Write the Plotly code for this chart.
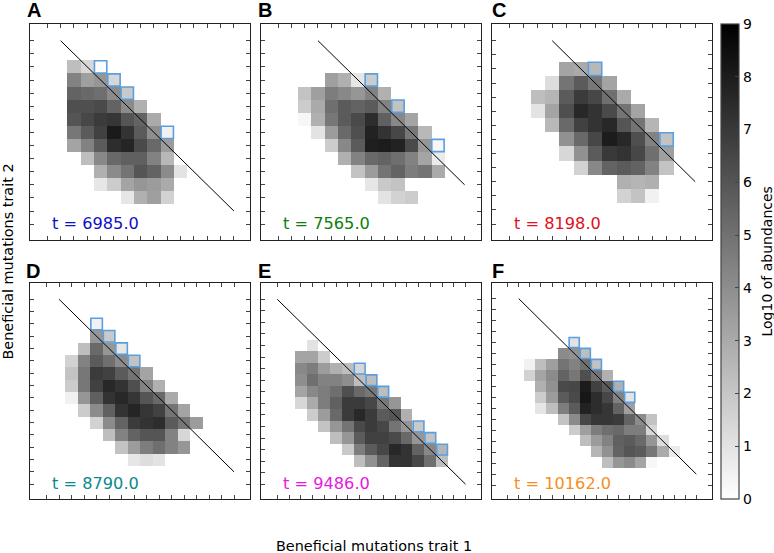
import plotly.graph_objects as go

W, H = 774, 553

# Each row: (row index j, first column k, log10 abundances)
rows_a = [
    (2, 2, [2.3, 1.4, 0.1]),
    (3, 2, [4.4, 3.4, 3.7, 1.4]),
    (4, 2, [5.5, 5.3, 5.1, 4.1, 1.9]),
    (5, 2, [6.2, 6.2, 6.4, 5.5, 4.1, 2.8]),
    (6, 2, [6.0, 6.5, 6.9, 7.1, 6.0, 5.5, 3.0]),
    (7, 2, [4.8, 5.8, 6.7, 8.1, 7.2, 5.8, 4.0, 0.5]),
    (8, 2, [3.2, 4.4, 5.8, 7.4, 7.7, 6.4, 5.3, 3.5]),
    (9, 3, [2.3, 4.2, 5.3, 5.6, 5.6, 4.4, 2.5]),
    (10, 4, [2.8, 4.1, 4.9, 6.0, 5.5, 4.1, 1.0]),
    (11, 4, [0.9, 1.8, 3.2, 3.7, 3.5, 3.0]),
    (12, 6, [0.9, 2.8, 3.4, 1.6]),
]
rows_b = [
    (3, 4, [3.4, 2.8, 0.9, 1.8]),
    (4, 2, [2.1, 3.4, 4.6, 4.2, 3.7, 4.4, 2.8]),
    (5, 2, [1.8, 3.0, 5.1, 5.8, 5.5, 5.8, 4.4, 2.1]),
    (6, 2, [0.3, 2.8, 4.8, 5.8, 6.4, 7.4, 5.6, 4.2, 3.2]),
    (7, 3, [1.0, 3.5, 5.3, 6.2, 7.8, 7.2, 6.5, 4.8, 2.5]),
    (8, 4, [1.8, 4.2, 5.8, 7.9, 8.0, 7.8, 6.4, 3.7, 0.3]),
    (9, 5, [2.8, 4.4, 5.3, 5.5, 5.1, 4.4, 3.2, 0.7]),
    (10, 6, [2.1, 3.5, 4.9, 5.5, 4.6, 4.9, 3.0]),
    (11, 7, [0.9, 1.9, 2.1]),
    (12, 8, [1.0, 1.6, 1.8]),
]
rows_c = [
    (2, 4, [3.2, 3.0, 2.5]),
    (3, 3, [1.2, 4.9, 5.8, 4.8, 3.2]),
    (4, 2, [2.3, 2.6, 5.8, 6.9, 6.5, 5.1, 3.0]),
    (5, 2, [1.0, 3.2, 6.2, 7.6, 7.2, 6.4, 4.9, 3.2]),
    (6, 3, [2.5, 5.3, 6.7, 7.2, 7.6, 6.0, 4.9, 2.6]),
    (7, 4, [3.9, 5.3, 6.5, 8.0, 7.6, 6.2, 4.4, 2.1]),
    (8, 4, [1.4, 3.9, 5.8, 7.0, 7.2, 6.5, 5.1, 3.4]),
    (9, 5, [1.6, 4.2, 5.5, 5.8, 5.5, 4.4, 2.1]),
    (10, 8, [2.8, 2.6, 2.8]),
    (11, 8, [1.6, 2.1, 0.5]),
]
rows_d = [
    (2, 4, [0.5]),
    (3, 4, [3.7, 1.9]),
    (4, 3, [2.3, 5.3, 3.7, 0.9]),
    (5, 2, [1.6, 4.4, 5.8, 5.1, 4.1, 2.1]),
    (6, 2, [2.1, 4.8, 6.9, 6.7, 5.8, 4.9, 3.2]),
    (7, 2, [1.8, 4.8, 6.7, 7.6, 7.2, 6.2, 4.4, 2.8]),
    (8, 2, [0.5, 3.7, 5.6, 7.2, 7.6, 7.1, 6.0, 5.3, 3.0]),
    (9, 3, [1.8, 4.1, 5.6, 7.2, 7.7, 7.1, 6.7, 4.9, 3.2]),
    (10, 4, [1.6, 4.1, 5.5, 6.9, 7.2, 7.4, 5.8, 4.8, 3.5]),
    (11, 5, [2.3, 4.4, 5.5, 6.0, 6.0, 4.4, 1.4]),
    (12, 6, [2.1, 3.5, 4.6, 5.1, 4.4, 3.7]),
    (13, 7, [0.9, 1.2, 1.0]),
]
rows_e = [
    (4, 3, [1.0]),
    (5, 2, [3.2, 3.2, 1.8]),
    (6, 2, [4.2, 4.6, 3.5, 2.8, 2.3, 1.4]),
    (7, 2, [4.0, 5.1, 4.4, 4.4, 4.0, 2.3, 2.3]),
    (8, 2, [3.2, 4.2, 4.6, 5.1, 6.2, 5.3, 4.8, 2.3]),
    (9, 2, [1.4, 3.0, 4.6, 5.6, 6.9, 6.9, 6.5, 4.8, 3.7]),
    (10, 3, [1.8, 3.5, 5.3, 6.9, 7.6, 6.9, 5.8, 6.0, 2.8]),
    (11, 4, [2.1, 3.7, 4.9, 6.4, 6.9, 6.5, 4.9, 3.7, 1.9]),
    (12, 5, [2.3, 3.7, 5.8, 6.7, 6.7, 6.4, 5.3, 3.7, 2.1]),
    (13, 6, [1.9, 4.6, 5.8, 6.5, 7.6, 7.2, 5.5, 4.2, 2.6]),
    (14, 7, [2.3, 3.9, 5.5, 7.2, 7.2, 6.5, 5.1, 2.3]),
]
rows_f = [
    (4, 6, [1.0]),
    (5, 5, [4.1, 3.9, 2.3]),
    (6, 2, [0.5, 2.3, 3.4, 4.9, 4.4, 5.1, 2.1]),
    (7, 2, [1.6, 3.2, 4.1, 5.5, 4.8, 6.2, 4.9, 2.8]),
    (8, 3, [2.8, 3.9, 6.4, 6.5, 8.0, 6.7, 5.8, 2.8]),
    (9, 3, [1.8, 3.5, 5.8, 6.4, 8.2, 7.4, 6.5, 4.4, 1.0]),
    (10, 3, [0.9, 2.3, 4.6, 5.8, 7.8, 7.4, 7.1, 5.5, 3.4]),
    (11, 5, [2.1, 4.1, 6.5, 7.1, 7.1, 6.9, 5.5, 4.1, 2.1]),
    (12, 6, [1.8, 3.4, 4.6, 5.1, 5.3, 4.6, 4.6, 1.4]),
    (13, 7, [2.3, 3.5, 4.4, 5.6, 5.8, 5.3, 3.7, 1.2]),
    (14, 8, [2.6, 3.9, 5.5, 6.0, 5.8, 4.8, 3.0, 0.7]),
    (15, 9, [2.3, 3.7, 4.1, 3.2, 0.3]),
]

boxes_a = [(4, 2), (5, 3), (6, 4), (9, 7)]
boxes_b = [(7, 3), (9, 5), (12, 8)]
boxes_c = [(6, 2), (11, 7)]
boxes_d = [(4, 2), (5, 3), (6, 4), (7, 5)]
boxes_e = [(7, 6), (8, 7), (9, 8), (12, 11), (13, 12), (14, 13)]
boxes_f = [(6, 4), (7, 5), (8, 6), (10, 8), (11, 9)]

# Diagonal front line: (k start, j start, k end, j end)
front_a = (1, 0, 14, 13)
front_b = (3, 0, 14, 11)
front_c = (3, 0, 13, 10)
front_d = (1, 0, 15, 14)
front_e = (0, 0, 16, 16)
front_f = (1, 0, 17, 16)

letters = ["A", "B", "C", "D", "E", "F"]
times = ["t = 6985.0", "t = 7565.0", "t = 8198.0", "t = 8790.0", "t = 9486.0", "t = 10162.0"]
time_colors = ["#1010c8", "#0c7f0c", "#e0101c", "#0a8a8a", "#e818e0", "#f5901e"]
cbar_ticks = list(range(10))

# panel frame in pixels: left, top; cell spacing; first tick offsets; tick counts
PW, PH = 220.0, 216.0
panels = [
    dict(rows=rows_a, boxes=boxes_a, front=front_a, left=30.3, top=24.0, dx=13.33, dy=13.1, x0=17.0, y0=16.7, nx=15, ny=15, lx=24.7, ly=10.0, tx=50.0, ty=224.0),
    dict(rows=rows_b, boxes=boxes_b, front=front_b, left=261.3, top=24.0, dx=13.33, dy=13.1, x0=16.7, y0=16.7, nx=15, ny=15, lx=256.0, ly=10.0, tx=280.8, ty=224.0),
    dict(rows=rows_c, boxes=boxes_c, front=front_c, left=492.3, top=24.0, dx=14.3, dy=14.1, x0=17.0, y0=16.7, nx=14, ny=14, lx=490.0, ly=10.0, tx=512.2, ty=224.0),
    dict(rows=rows_d, boxes=boxes_d, front=front_d, left=30.3, top=283.3, dx=12.5, dy=12.33, x0=16.3, y0=16.0, nx=16, ny=16, lx=24.3, ly=270.7, tx=50.0, ty=483.0),
    dict(rows=rows_e, boxes=boxes_e, front=front_e, left=261.3, top=283.3, dx=11.77, dy=11.56, x0=16.0, y0=16.0, nx=17, ny=17, lx=256.0, ly=270.7, tx=280.8, ty=483.0),
    dict(rows=rows_f, boxes=boxes_f, front=front_f, left=492.3, top=283.3, dx=11.1, dy=10.97, x0=15.3, y0=15.3, nx=18, ny=18, lx=489.7, ly=270.7, tx=512.2, ty=483.0),
]

fig = go.Figure()
layout = {}
annotations = []

for i, p in enumerate(panels):
    n = "" if i == 0 else str(i + 1)
    xref, yref = "x" + n, "y" + n
    ncols, nrows = 20, 20
    z = [[None] * ncols for _ in range(nrows)]
    for j, k0, vals in p["rows"]:
        for m, v in enumerate(vals):
            z[j][k0 + m] = v
    fig.add_trace(go.Heatmap(z=z, x=list(range(ncols)), y=list(range(nrows)),
                             coloraxis="coloraxis", xaxis=xref, yaxis=yref,
                             hoverongaps=False))
    fig.add_trace(go.Scatter(x=[b[0] for b in p["boxes"]], y=[b[1] for b in p["boxes"]],
                             mode="markers", xaxis=xref, yaxis=yref, showlegend=False,
                             marker=dict(symbol="square-open", size=p["dx"] - 1,
                                         color="#5a9fe0", line=dict(width=1.6, color="#5a9fe0"))))
    f = p["front"]
    fig.add_trace(go.Scatter(x=[f[0], f[2]], y=[f[1], f[3]], mode="lines",
                             xaxis=xref, yaxis=yref, showlegend=False,
                             line=dict(color="black", width=1)))
    axis_common = dict(ticks="inside", ticklen=4, tickwidth=1, tickcolor="#444444",
                       showline=True, linecolor="#222222", linewidth=1.3, mirror="ticks",
                       showgrid=False, zeroline=False, showticklabels=False)
    layout["xaxis" + n] = dict(
        domain=[p["left"] / W, (p["left"] + PW) / W],
        range=[-p["x0"] / p["dx"], (PW - p["x0"]) / p["dx"]],
        tickmode="array", tickvals=list(range(p["nx"])),
        anchor=yref, **axis_common)
    layout["yaxis" + n] = dict(
        domain=[1 - (p["top"] + PH) / H, 1 - p["top"] / H],
        range=[(PH - p["y0"]) / p["dy"], -p["y0"] / p["dy"]],
        tickmode="array", tickvals=list(range(p["ny"])),
        anchor=xref, **axis_common)
    annotations.append(dict(text="<b>%s</b>" % letters[i], xref="paper", yref="paper",
                            x=p["lx"] / W, y=1 - p["ly"] / H, xanchor="left", yanchor="middle",
                            showarrow=False, font=dict(family="Liberation Sans", size=20, color="black")))
    annotations.append(dict(text=times[i], xref="paper", yref="paper",
                            x=p["tx"] / W, y=1 - p["ty"] / H, xanchor="left", yanchor="middle",
                            showarrow=False, font=dict(family="DejaVu Sans", size=16.2, color=time_colors[i])))

annotations.append(dict(text="Beneficial mutations trait 1", xref="paper", yref="paper",
                        x=373.8 / W, y=1 - 546.3 / H, xanchor="center", yanchor="middle", showarrow=False,
                        font=dict(family="DejaVu Sans", size=14.4, color="black")))
annotations.append(dict(text="Beneficial mutations trait 2", xref="paper", yref="paper",
                        x=7.5 / W, y=1 - 262 / H, xanchor="center", yanchor="middle", showarrow=False,
                        textangle=-90, font=dict(family="DejaVu Sans", size=14.4, color="black")))
annotations.append(dict(text="Log10 of abundances", xref="paper", yref="paper",
                        x=766 / W, y=1 - 261.5 / H, xanchor="center", yanchor="middle", showarrow=False,
                        textangle=-90, font=dict(family="DejaVu Sans", size=14, color="black")))

fig.update_layout(
    width=W, height=H, margin=dict(l=0, r=0, t=0, b=0, autoexpand=False),
    paper_bgcolor="white", plot_bgcolor="white", showlegend=False,
    annotations=annotations,
    coloraxis=dict(
        cmin=0, cmax=9,
        colorscale=[[0, "#ffffff"], [1, "#000000"]],
        colorbar=dict(
            x=720.7 / W, xanchor="left", xpad=0, y=1 - 24 / H, yanchor="top", ypad=0,
            thicknessmode="pixels", thickness=18.3, lenmode="pixels", len=475.3,
            tickmode="array", tickvals=cbar_ticks, ticks="inside", ticklen=4, tickwidth=1,
            tickcolor="#444444", outlinewidth=1.2, outlinecolor="#444444",
            tickfont=dict(family="DejaVu Sans", size=14, color="black"),
        ),
    ),
    **layout,
)

fig.write_html("out.html", config={"displayModeBar": False},
               post_script="document.body.style.margin='0';")
